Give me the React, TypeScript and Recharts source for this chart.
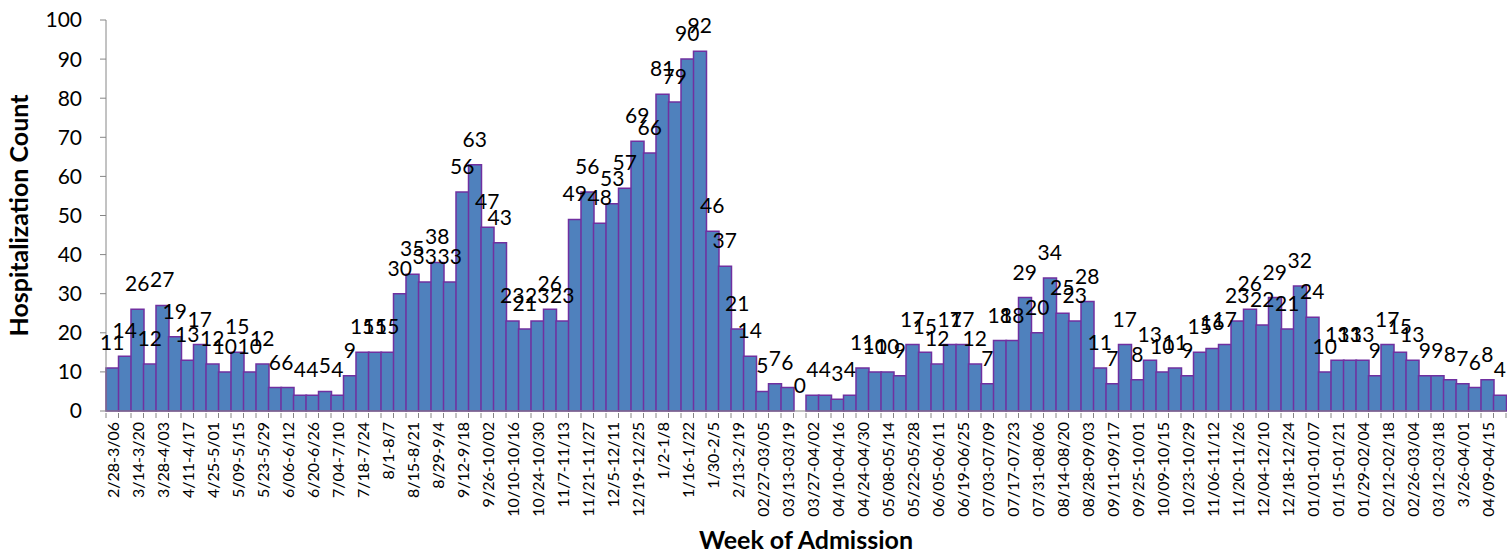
import { Bar, ComposedChart, LabelList, Line, XAxis, YAxis, Label } from "recharts"

// labels printed under every other bar
const tickLabels = [
  "2/28-3/06", "3/14-3/20", "3/28-4/03", "4/11-4/17", "4/25-5/01", "5/09-5/15", "5/23-5/29",
  "6/06-6/12", "6/20-6/26", "7/04-7/10", "7/18-7/24", "8/1-8/7", "8/15-8/21", "8/29-9/4",
  "9/12-9/18", "9/26-10/02", "10/10-10/16", "10/24-10/30", "11/7-11/13", "11/21-11/27",
  "12/5-12/11", "12/19-12/25", "1/2-1/8", "1/16-1/22", "1/30-2/5", "2/13-2/19",
  "02/27-03/05", "03/13-03/19", "03/27-04/02", "04/10-04/16", "04/24-04/30", "05/08-05/14",
  "05/22-05/28", "06/05-06/11", "06/19-06/25", "07/03-07/09", "07/17-07/23", "07/31-08/06",
  "08/14-08/20", "08/28-09/03", "09/11-09/17", "09/25-10/01", "10/09-10/15", "10/23-10/29",
  "11/06-11/12", "11/20-11/26", "12/04-12/10", "12/18-12/24", "01/01-01/07", "01/15-01/21",
  "01/29-02/04", "02/12-02/18", "02/26-03/04", "03/12-03/18", "3/26-04/01", "04/09-04/15",
]

const counts = [
  11, 14, 26, 12, 27, 19, 13, 17, 12, 10, 15, 10, 12, 6, 6, 4, 4, 5, 4, 9,
  15, 15, 15, 30, 35, 33, 38, 33, 56, 63, 47, 43, 23, 21, 23, 26, 23, 49, 56, 48,
  53, 57, 69, 66, 81, 79, 90, 92, 46, 37, 21, 14, 5, 7, 6, 0, 4, 4, 3, 4,
  11, 10, 10, 9, 17, 15, 12, 17, 17, 12, 7, 18, 18, 29, 20, 34, 25, 23, 28, 11,
  7, 17, 8, 13, 10, 11, 9, 15, 16, 17, 23, 26, 22, 29, 21, 32, 24, 10, 13, 13,
  13, 9, 17, 15, 13, 9, 9, 8, 7, 6, 8, 4,
]

const yTicks = [0, 10, 20, 30, 40, 50, 60, 70, 80, 90, 100]

const data = counts.map((count, i) => ({
  week: i % 2 === 0 ? tickLabels[i / 2] : "",
  count,
}))

const W = 1507
const H = 554
const Y_AXIS_W = 106
const RIGHT = 1
const STEP = (W - Y_AXIS_W - RIGHT) / counts.length
const AXIS_GRAY = "#868686"
const FONT = "Lato, 'Open Sans', sans-serif"

const WeekTick = (props: any) => {
  const { x, y, payload, index } = props
  const last = index === counts.length - 1
  return (
    <g>
      <line x1={x - STEP / 2} x2={x - STEP / 2} y1={y - 8} y2={y - 3} stroke={AXIS_GRAY} />
      {last && <line x1={x + STEP / 2} x2={x + STEP / 2} y1={y - 8} y2={y - 3} stroke={AXIS_GRAY} />}
      {index % 2 === 0 && (
        <text
          transform={`translate(${x},${y + 1}) rotate(-90)`}
          textAnchor="end"
          dominantBaseline="central"
          fontSize={16}
          fontFamily={FONT}
          fill="#000"
        >
          {payload.value}
        </text>
      )}
    </g>
  )
}

const YTitle = (props: any) => {
  const { viewBox } = props
  const cx = 18
  const cy = viewBox.y + viewBox.height / 2
  return (
    <text
      x={cx}
      y={cy}
      transform={`rotate(-90, ${cx}, ${cy})`}
      textAnchor="middle"
      dominantBaseline="central"
      fontSize={25}
      fontWeight="bold"
      fontFamily={FONT}
      fill="#000"
    >
      Hospitalization Count
    </text>
  )
}

const XTitle = (props: any) => {
  const { viewBox } = props
  const cx = viewBox.x + viewBox.width / 2
  return (
    <text
      x={cx}
      y={539}
      textAnchor="middle"
      dominantBaseline="central"
      fontSize={25}
      fontWeight="bold"
      fontFamily={FONT}
      fill="#000"
    >
      Week of Admission
    </text>
  )
}

export default function App() {
  return (
    <div style={{ position: "absolute", left: 0, top: 0, width: W, height: H, background: "#fff", fontFamily: FONT }}>
      <ComposedChart width={W} height={H} data={data} margin={{ top: 20, right: RIGHT, left: 0, bottom: 0 }} barCategoryGap={0}>
        <XAxis
          dataKey="week"
          interval={0}
          height={143}
          tick={<WeekTick />}
          tickLine={false}
          tickSize={8}
          axisLine={{ stroke: AXIS_GRAY }}
        >
          <Label content={<XTitle />} />
        </XAxis>
        <YAxis
          width={Y_AXIS_W}
          domain={[0, 100]}
          ticks={yTicks}
          interval={0}
          tickSize={6}
          tickMargin={18}
          axisLine={{ stroke: AXIS_GRAY }}
          tickLine={{ stroke: AXIS_GRAY }}
          tick={{ fontSize: 21, fill: "#000", fontFamily: FONT }}
        >
          <Label content={<YTitle />} />
        </YAxis>
        <Bar dataKey="count" fill="#4F81BD" stroke="#7030A0" strokeWidth={1.5} isAnimationActive={false} />
        {/* value labels ride on an invisible line so the zero week keeps its "0" */}
        <Line dataKey="count" stroke="none" dot={false} activeDot={false} isAnimationActive={false}>
          <LabelList dataKey="count" position="top" offset={18} fontSize={21} fill="#000" fontFamily={FONT} />
        </Line>
      </ComposedChart>
    </div>
  )
}
